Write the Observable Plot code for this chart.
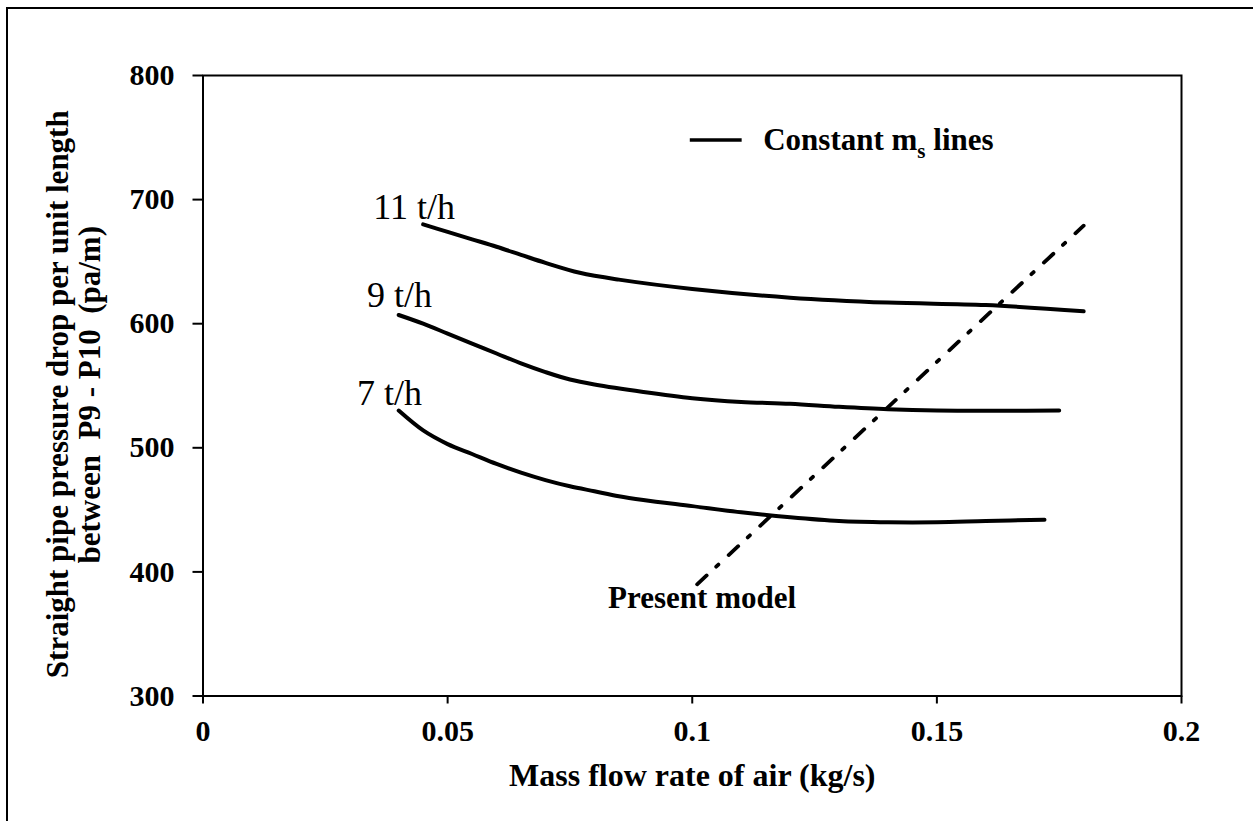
<!DOCTYPE html>
<html>
<head>
<meta charset="utf-8">
<script src="https://cdn.jsdelivr.net/npm/d3@7"></script>
<script src="https://cdn.jsdelivr.net/npm/@observablehq/plot@0.6"></script>
<style>
  html, body { margin: 0; padding: 0; background: #fff; overflow: hidden; }
  #wrap { position: relative; width: 1253px; height: 821px; }
  #border { position: absolute; left: 6px; top: 7px; right: -10px; bottom: -10px;
            border-left: 2.5px solid #000; border-top: 2.5px solid #000; pointer-events: none; }
  #wrap svg { position: absolute; left: 0; top: 0; }
  #wrap svg text { white-space: pre; }
</style>
</head>
<body>
<div id="wrap"><div id="border"></div></div>
<script>
// Constant solids-rate lines: air mass flow (kg/s) vs straight-pipe pressure drop (Pa/m)
const flow11 = [0.045, 0.05, 0.055, 0.06, 0.065, 0.07, 0.077, 0.085, 0.1, 0.12, 0.14, 0.16, 0.18];
const dp11   = [680, 674, 668, 662, 655.5, 649, 641, 635.5, 628, 621, 617, 615, 610];

const flow9 = [0.04, 0.045, 0.05, 0.055, 0.06, 0.065, 0.07, 0.075, 0.08, 0.09, 0.1, 0.11, 0.12, 0.13, 0.14, 0.15, 0.175];
const dp9   = [607, 600, 592, 584, 576, 568, 561, 555, 551, 545, 540, 537, 535.5, 533, 531, 530, 530];

const flow7 = [0.04, 0.045, 0.05, 0.055, 0.06, 0.065, 0.07, 0.075, 0.08, 0.085, 0.09, 0.1, 0.11, 0.12, 0.13, 0.14, 0.15, 0.16, 0.172];
const dp7   = [530, 514, 503, 495, 487, 480, 474, 469, 465, 461, 458, 453, 448, 444, 441, 440, 440, 441, 442];

// Present model (minimum pressure drop locus)
const flowModel = [0.101, 0.18];
const dpModel   = [390, 679];

// Curve labels
const rateLabels = ["11 t/h", "9 t/h", "7 t/h"];
const rateLabelFlow = [0.0348, 0.0335, 0.0315];
const rateLabelDp   = [694, 623, 544];

// Axis ticks
const xTicks = [0, 0.05, 0.1, 0.15, 0.2];
const xTickLabels = ["0", "0.05", "0.1", "0.15", "0.2"];
const yTicks = [300, 400, 500, 600, 700, 800];

const xTitle = "Mass flow rate of air (kg/s)";
const yTitle1 = "Straight pipe pressure drop per unit length";
const yTitle2 = "between  P9 - P10  (pa/m)";
const legendMain = "Constant m", legendSub = "s", legendTail = " lines";
const modelLabel = "Present model";

const curves = [
  ...flow11.map((f, i) => ({flow: f, dp: dp11[i], rate: "11 t/h"})),
  ...flow9.map((f, i) => ({flow: f, dp: dp9[i], rate: "9 t/h"})),
  ...flow7.map((f, i) => ({flow: f, dp: dp7[i], rate: "7 t/h"}))
];
const model = flowModel.map((f, i) => ({flow: f, dp: dpModel[i]}));
const labels = rateLabels.map((t, i) => ({text: t, flow: rateLabelFlow[i], dp: rateLabelDp[i]}));

const serif = "'Liberation Serif', 'Times New Roman', serif";

const chart = Plot.plot({
  width: 1253,
  height: 821,
  marginLeft: 202.5,
  marginRight: 72,
  marginTop: 75,
  marginBottom: 125.5,
  style: {fontFamily: serif, fontSize: "30px", fontWeight: "bold", color: "#000", background: "transparent"},
  x: {domain: [0, 0.2]},
  y: {domain: [300, 800]},
  marks: [
    Plot.frame({stroke: "#000", strokeWidth: 2}),
    Plot.axisX({ticks: xTicks, tickFormat: d => xTickLabels[xTicks.indexOf(d)], tickSize: 8, tickPadding: 16,
                strokeWidth: 2, label: null, fontSize: 30}),
    Plot.axisY({ticks: yTicks, tickFormat: d => String(d), tickSize: 10, tickPadding: 18.5,
                strokeWidth: 2, label: null, fontSize: 30}),
    Plot.line(curves, {x: "flow", y: "dp", z: "rate", curve: "catmull-rom", stroke: "#000",
                       strokeWidth: 4, strokeLinecap: "round"}),
    Plot.line(model, {x: "flow", y: "dp", stroke: "#000", strokeWidth: 3.8, strokeDasharray: "13,13,3,14"}),
    Plot.text(labels, {x: "flow", y: "dp", text: "text", textAnchor: "start", fontSize: 36,
                       fontWeight: "normal", fill: "#000"}),
    Plot.text([modelLabel], {x: () => 0.0828, y: () => 379, text: d => d, textAnchor: "start",
                             fontSize: 31, fontWeight: "bold", fill: "#000"}),
    // legend sample
    Plot.ruleY([748], {y: d => d, x1: () => 0.0996, x2: () => 0.1102, stroke: "#000", strokeWidth: 3.5}),
    Plot.text([legendMain + legendSub + legendTail], {x: () => 0.1145, y: () => 748, text: d => d,
                             textAnchor: "start", fontSize: 31, fontWeight: "bold", fill: "#000"}),
    // axis titles
    Plot.text([xTitle], {frameAnchor: "bottom", dy: 90, text: d => d, fontSize: 32, fontWeight: "bold", fill: "#000"}),
    Plot.text([yTitle1], {frameAnchor: "left", textAnchor: "middle", dx: -144.5, dy: 8.5, rotate: -90, text: d => d,
                          fontSize: 31, fontWeight: "bold", fill: "#000"}),
    Plot.text([yTitle2], {frameAnchor: "left", textAnchor: "middle", dx: -112.5, dy: 9, rotate: -90, text: d => d,
                          fontSize: 31, fontWeight: "bold", fill: "#000"})
  ]
});

// subscript "s" in the legend entry
d3.select(chart).selectAll("text")
  .filter(function () { return this.textContent === legendMain + legendSub + legendTail; })
  .each(function () {
    const t = d3.select(this);
    t.text(null);
    t.append("tspan").text(legendMain);
    t.append("tspan").attr("font-size", 21).attr("dy", 8).text(legendSub);
    t.append("tspan").attr("dy", -8).text(legendTail);
  });

document.getElementById("wrap").appendChild(chart);
</script>
</body>
</html>
